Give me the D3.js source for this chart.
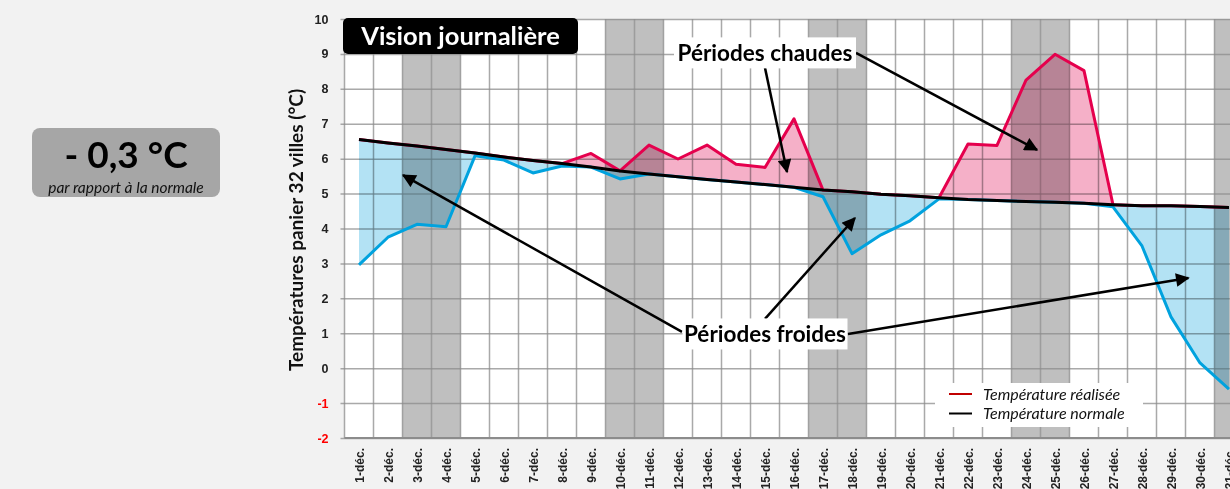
<!DOCTYPE html>
<html>
<head>
<meta charset="utf-8">
<script src="https://cdn.jsdelivr.net/npm/d3@7"></script>
<style>
  body { margin: 0; background: #f2f2f2; }
  svg { display: block; font-family: Lato, "Open Sans", sans-serif; }
</style>
</head>
<body>
<svg id="chart" width="1230" height="489"></svg>
<script>
// jours de décembre
const days = ['1-déc.', '2-déc.', '3-déc.', '4-déc.', '5-déc.', '6-déc.', '7-déc.', '8-déc.', '9-déc.', '10-déc.',
    '11-déc.', '12-déc.', '13-déc.', '14-déc.', '15-déc.', '16-déc.', '17-déc.', '18-déc.', '19-déc.', '20-déc.',
    '21-déc.', '22-déc.', '23-déc.', '24-déc.', '25-déc.', '26-déc.', '27-déc.', '28-déc.', '29-déc.', '30-déc.', '31-déc.'];
const realized = [2.96, 3.75, 4.12, 4.05, 6.08, 5.96, 5.59, 5.79, 6.15, 5.42,
    6.39, 5.99, 6.39, 5.84, 5.75, 7.14, 4.91, 3.28, 3.82, 4.22,
    4.85, 6.42, 6.38, 8.25, 8.99, 8.52, 4.62, 3.5, 1.47, 0.15, -0.6];
const normal = [6.55, 6.45, 6.36, 6.26, 6.16, 6.05, 5.95, 5.86, 5.76, 5.65,
    5.56, 5.48, 5.40, 5.33, 5.26, 5.18, 5.10, 5.05, 4.98, 4.94,
    4.88, 4.83, 4.80, 4.77, 4.75, 4.72, 4.68, 4.65, 4.65, 4.63, 4.60];
const weekendDays = ['3-déc.', '4-déc.', '10-déc.', '11-déc.', '17-déc.', '18-déc.', '24-déc.', '25-déc.', '31-déc.'];
const yTicks = [-2, -1, 0, 1, 2, 3, 4, 5, 6, 7, 8, 9, 10];

// annotations : position du libellé (jour, valeur) et cibles des flèches
const hotLabel = { text: 'Périodes chaudes', day: 15, value: 9.03 };
const hotArrows = [
    { from: [0, 15], day: 15.76, value: 5.62 },
    { from: [91, 0], day: 24.38, value: 6.25 }
];
const coldLabel = { text: 'Périodes froides', day: 15, value: 0.98 };
const coldArrows = [
    { from: [-83, -2], day: 2.52, value: 5.53 },
    { from: [0, -15], day: 18.1, value: 4.3 },
    { from: [83, 0], day: 29.6, value: 2.58 }
];

const svg = d3.select('#chart');
const margin = { top: 19, left: 344.5 };
const band = 29;
const x = d3.scaleBand().domain(days).range([margin.left, margin.left + band * days.length]);
const y = d3.scaleLinear().domain([-2, 10]).range([438, margin.top]);
const xc = d => x(d) + x.bandwidth() / 2;
// jour fractionnaire -> pixel
const xd = t => margin.left + (t - 0.5) * band;
const right = x.range()[1];

const defs = svg.append('defs');
defs.append('marker')
    .attr('id', 'head')
    .attr('viewBox', '0 0 10 10')
    .attr('refX', 9).attr('refY', 5)
    .attr('markerWidth', 6).attr('markerHeight', 5.5)
    .attr('markerUnits', 'strokeWidth')
    .attr('orient', 'auto')
    .append('path').attr('d', 'M0,0 L10,5 L0,10 z').attr('fill', '#000');

// fond de la zone de tracé
svg.append('rect')
    .attr('x', margin.left).attr('y', y(10))
    .attr('width', right - margin.left).attr('height', y(-2) - y(10))
    .attr('fill', '#fff');

// week-ends
svg.append('g').selectAll('rect')
    .data(weekendDays)
    .enter().append('rect')
    .attr('x', d => x(d)).attr('y', y(10))
    .attr('width', x.bandwidth()).attr('height', y(-2) - y(10))
    .attr('fill', '#bfbfbf');

// grille horizontale + graduations
const yAxis = svg.append('g')
    .attr('transform', 'translate(' + margin.left + ',0)')
    .call(d3.axisLeft(y).tickValues(yTicks).tickFormat(d => String(d))
        .tickSize(-(right - margin.left)).tickSizeOuter(0).tickPadding(16));
yAxis.select('.domain').remove();
yAxis.selectAll('.tick line')
    .attr('x1', -4)
    .attr('stroke', '#8c8c8c').attr('stroke-opacity', 0.75).attr('stroke-width', 1.5);
yAxis.selectAll('.tick text')
    .attr('font-size', 12.5).attr('font-weight', 'bold')
    .attr('fill', d => d < 0 ? '#ff0000' : '#222');

// grille verticale
const bounds = days.map(d => x(d)).concat([right]);
svg.append('g').selectAll('line')
    .data(bounds)
    .enter().append('line')
    .attr('x1', d => d).attr('x2', d => d)
    .attr('y1', y(10)).attr('y2', y(-2))
    .attr('stroke', '#8c8c8c').attr('stroke-opacity', 0.75).attr('stroke-width', 1.5);

// zones chaudes / froides
const series = days.map((d, i) => ({ day: d, real: realized[i], norm: normal[i] }));
const hotArea = d3.area().x(d => xc(d.day)).y0(d => y(d.norm)).y1(d => y(Math.max(d.real, d.norm)));
const coldArea = d3.area().x(d => xc(d.day)).y0(d => y(d.norm)).y1(d => y(Math.min(d.real, d.norm)));
svg.append('path').datum(series).attr('d', hotArea)
    .attr('fill', '#f5b0c8').style('mix-blend-mode', 'multiply');
svg.append('path').datum(series).attr('d', coldArea)
    .attr('fill', '#b3e2f4').style('mix-blend-mode', 'multiply');

const hotLine = d3.line().x(d => xc(d.day)).y(d => y(Math.max(d.real, d.norm)));
const coldLine = d3.line().x(d => xc(d.day)).y(d => y(Math.min(d.real, d.norm)));
const normLine = d3.line().x(d => xc(d.day)).y(d => y(d.norm));
svg.append('path').datum(series).attr('d', hotLine)
    .attr('fill', 'none').attr('stroke', '#e5004d').attr('stroke-width', 3).attr('stroke-linejoin', 'round');
svg.append('path').datum(series).attr('d', coldLine)
    .attr('fill', 'none').attr('stroke', '#00a2de').attr('stroke-width', 3).attr('stroke-linejoin', 'round');
svg.append('path').datum(series).attr('d', normLine)
    .attr('fill', 'none').attr('stroke', '#000').attr('stroke-width', 3);

// axe des x
const xAxis = svg.append('g')
    .attr('transform', 'translate(0,' + y(-2) + ')')
    .call(d3.axisBottom(x).tickSize(0));
xAxis.select('.domain')
    .attr('d', 'M' + margin.left + ',0H' + right)
    .attr('stroke', '#8c8c8c').attr('stroke-width', 2);
xAxis.selectAll('.tick text')
    .attr('font-size', 12).attr('font-weight', 'bold').attr('fill', '#222')
    .attr('text-anchor', 'end')
    .attr('transform', 'translate(1,10) rotate(-90)')
    .attr('x', 0).attr('y', 0).attr('dy', '0.35em');

// titre de l'axe y
svg.append('text')
    .attr('transform', 'translate(303,230) rotate(-90)')
    .attr('text-anchor', 'middle')
    .attr('font-size', 19).attr('font-weight', 'bold').attr('fill', '#111')
    .text('Températures panier 32 villes (°C)');

// légende
const leg = svg.append('g');
leg.append('rect').attr('x', 935).attr('y', 383).attr('width', 208).attr('height', 44).attr('fill', '#fff');
const legItems = [
    { label: 'Température réalisée', color: '#c00000' },
    { label: 'Température normale', color: '#000' }
];
legItems.forEach((it, i) => {
    const yy = 394 + i * 19.5;
    leg.append('line').attr('x1', 949).attr('x2', 972).attr('y1', yy).attr('y2', yy)
        .attr('stroke', it.color).attr('stroke-width', 2);
    leg.append('text').attr('x', 983).attr('y', yy).attr('dy', '0.35em')
        .attr('font-size', 16).attr('font-style', 'italic').attr('fill', '#111')
        .text(it.label);
});

// titre
svg.append('rect').attr('x', 343).attr('y', 18).attr('width', 235).attr('height', 36).attr('rx', 5).attr('fill', '#000');
svg.append('text').attr('x', 460.5).attr('y', 36).attr('dy', '0.36em')
    .attr('text-anchor', 'middle').attr('font-size', 25.5).attr('font-weight', 'bold').attr('fill', '#fff')
    .text('Vision journalière');

// annotations
function annotate(lab, arrows, w) {
    const cx = xd(lab.day), cy = y(lab.value);
    arrows.forEach(a => {
        svg.append('line')
            .attr('x1', cx + a.from[0]).attr('y1', cy + a.from[1])
            .attr('x2', xd(a.day)).attr('y2', y(a.value))
            .attr('stroke', '#000').attr('stroke-width', 2.5)
            .attr('marker-end', 'url(#head)');
    });
    svg.append('rect').attr('x', cx - w / 2).attr('y', cy - 15.5).attr('width', w).attr('height', 31).attr('fill', '#fff');
    svg.append('text').attr('x', cx).attr('y', cy).attr('dy', '0.36em')
        .attr('text-anchor', 'middle').attr('font-size', 22.5).attr('font-weight', 'bold').attr('fill', '#000')
        .text(lab.text);
}
annotate(hotLabel, hotArrows, 182);
annotate(coldLabel, coldArrows, 165);

// encart écart à la normale
svg.append('rect').attr('x', 32).attr('y', 128).attr('width', 188).attr('height', 69).attr('rx', 8).attr('fill', '#a6a6a6');
svg.append('text').attr('x', 126).attr('y', 155).attr('dy', '0.36em')
    .attr('text-anchor', 'middle').attr('font-size', 37).attr('font-weight', 'bold').attr('fill', '#000')
    .text('- 0,3 °C');
svg.append('text').attr('x', 126).attr('y', 188).attr('dy', '0.35em')
    .attr('text-anchor', 'middle').attr('font-size', 15.5).attr('font-style', 'italic').attr('fill', '#111')
    .text('par rapport à la normale');
</script>
</body>
</html>
